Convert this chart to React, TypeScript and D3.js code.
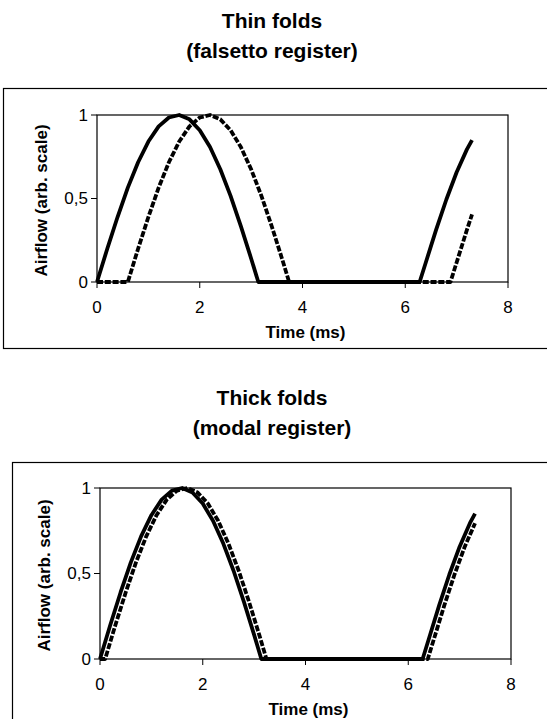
import React from "react";
import * as d3 from "d3";

// ---- Data (time in ms, airflow in arbitrary units) ----
const xTicks = [0, 2, 4, 6, 8];
const yTicks = [0, 0.5, 1];
const yTickLabels = ["0", "0,5", "1"];

const thinSolidTime = [0, 0.2, 0.4, 0.6, 0.8, 1.0, 1.2, 1.4, 1.6, 1.8, 2.0, 2.2, 2.4, 2.6, 2.8, 3.0, 3.14, 6.28, 6.4, 6.6, 6.8, 7.0, 7.2, 7.3];
const thinSolidFlow = [0, 0.199, 0.389, 0.565, 0.717, 0.841, 0.932, 0.985, 1.0, 0.974, 0.909, 0.808, 0.675, 0.516, 0.335, 0.141, 0, 0, 0.117, 0.312, 0.494, 0.657, 0.794, 0.85];

const thinDashTime = [0, 0.6, 0.8, 1.0, 1.2, 1.4, 1.6, 1.8, 2.0, 2.2, 2.4, 2.6, 2.8, 3.0, 3.2, 3.4, 3.6, 3.74, 6.88, 7.0, 7.2, 7.3];
const thinDashFlow = [0, 0, 0.199, 0.389, 0.565, 0.717, 0.841, 0.932, 0.985, 1.0, 0.974, 0.909, 0.808, 0.675, 0.516, 0.335, 0.141, 0, 0, 0.117, 0.312, 0.405];

const thickSolidTime = [0, 0.2, 0.4, 0.6, 0.8, 1.0, 1.2, 1.4, 1.6, 1.8, 2.0, 2.2, 2.4, 2.6, 2.8, 3.0, 3.14, 6.28, 6.4, 6.6, 6.8, 7.0, 7.2, 7.3];
const thickSolidFlow = [0, 0.199, 0.389, 0.565, 0.717, 0.841, 0.932, 0.985, 1.0, 0.974, 0.909, 0.808, 0.675, 0.516, 0.335, 0.141, 0, 0, 0.117, 0.312, 0.494, 0.657, 0.794, 0.85];

const thickDashTime = [0, 0.1, 0.3, 0.5, 0.7, 0.9, 1.1, 1.3, 1.5, 1.7, 1.9, 2.1, 2.3, 2.5, 2.7, 2.9, 3.1, 3.24, 6.38, 6.5, 6.7, 6.9, 7.1, 7.3];
const thickDashFlow = [0, 0, 0.199, 0.389, 0.565, 0.717, 0.841, 0.932, 0.985, 1.0, 0.974, 0.909, 0.808, 0.675, 0.516, 0.335, 0.141, 0, 0, 0.117, 0.312, 0.494, 0.657, 0.794];

const xLabel = "Time (ms)";
const yLabel = "Airflow (arb. scale)";

type Series = { t: number[]; v: number[]; dashed: boolean };

type PanelProps = {
  titles: string[];
  titleY: number[];
  frame: { x: number; y: number; w: number; h: number };
  plot: { left: number; right: number; top: number; bottom: number };
  series: Series[];
};

const FONT = "'Liberation Sans', Arial, sans-serif";

function Panel({ titles, titleY, frame, plot, series }: PanelProps) {
  const x = d3.scaleLinear().domain([0, 8]).range([plot.left, plot.right]);
  const y = d3.scaleLinear().domain([0, 1]).range([plot.bottom, plot.top]);
  const line = d3
    .line<[number, number]>()
    .x((d) => x(d[0]))
    .y((d) => y(d[1]))
    .curve(d3.curveLinear);
  const cx = (plot.left + plot.right) / 2 + 3;
  const cy = (plot.top + plot.bottom) / 2 + 2;
  return (
    <g>
      {titles.map((t, i) => (
        <text key={i} x={272} y={titleY[i]} textAnchor="middle" dominantBaseline="central" fontFamily={FONT} fontWeight="bold" fontSize={21}>
          {t}
        </text>
      ))}
      <rect x={frame.x} y={frame.y} width={frame.w} height={frame.h} fill="white" stroke="#000" strokeWidth={1.2} />
      <rect x={plot.left} y={plot.top} width={plot.right - plot.left} height={plot.bottom - plot.top} fill="none" stroke="#000" strokeWidth={1.2} />
      {xTicks.map((t) => (
        <g key={t}>
          <line x1={x(t)} x2={x(t)} y1={plot.bottom} y2={plot.bottom + 6} stroke="#000" strokeWidth={1} />
          <text x={x(t)} y={plot.bottom + 25} textAnchor="middle" dominantBaseline="central" fontFamily={FONT} fontSize={17}>
            {t}
          </text>
        </g>
      ))}
      {yTicks.map((t, i) => (
        <g key={t}>
          <line x1={plot.left - 6} x2={plot.left} y1={y(t)} y2={y(t)} stroke="#000" strokeWidth={1} />
          <text x={plot.left - 9} y={y(t)} textAnchor="end" dominantBaseline="central" fontFamily={FONT} fontSize={17}>
            {yTickLabels[i]}
          </text>
        </g>
      ))}
      <text x={cx} y={plot.bottom + 50} textAnchor="middle" dominantBaseline="central" fontFamily={FONT} fontWeight="bold" fontSize={17}>
        {xLabel}
      </text>
      <text transform={`translate(${plot.left - 56},${cy}) rotate(-90)`} textAnchor="middle" dominantBaseline="central" fontFamily={FONT} fontWeight="bold" fontSize={17}>
        {yLabel}
      </text>
      {series.map((s, i) => (
        <path
          key={i}
          d={line(s.t.map((t, k) => [t, s.v[k]] as [number, number])) || ""}
          fill="none"
          stroke="#000"
          strokeWidth={3.8}
          strokeLinejoin="round"
          strokeDasharray={s.dashed ? "6,1.8" : undefined}
        />
      ))}
    </g>
  );
}

export default function App() {
  return (
    <svg width={547} height={719} style={{ position: "absolute", left: 0, top: 0, background: "white" }}>
      <Panel
        titles={["Thin folds", "(falsetto register)"]}
        titleY={[20, 50]}
        frame={{ x: 3.5, y: 88.5, w: 560, h: 260 }}
        plot={{ left: 97, right: 508, top: 115, bottom: 282 }}
        series={[
          { t: thinSolidTime, v: thinSolidFlow, dashed: false },
          { t: thinDashTime, v: thinDashFlow, dashed: true },
        ]}
      />
      <Panel
        titles={["Thick folds", "(modal register)"]}
        titleY={[397, 427]}
        frame={{ x: 12.5, y: 462.5, w: 560, h: 280 }}
        plot={{ left: 100, right: 511, top: 488, bottom: 659 }}
        series={[
          { t: thickSolidTime, v: thickSolidFlow, dashed: false },
          { t: thickDashTime, v: thickDashFlow, dashed: true },
        ]}
      />
    </svg>
  );
}
